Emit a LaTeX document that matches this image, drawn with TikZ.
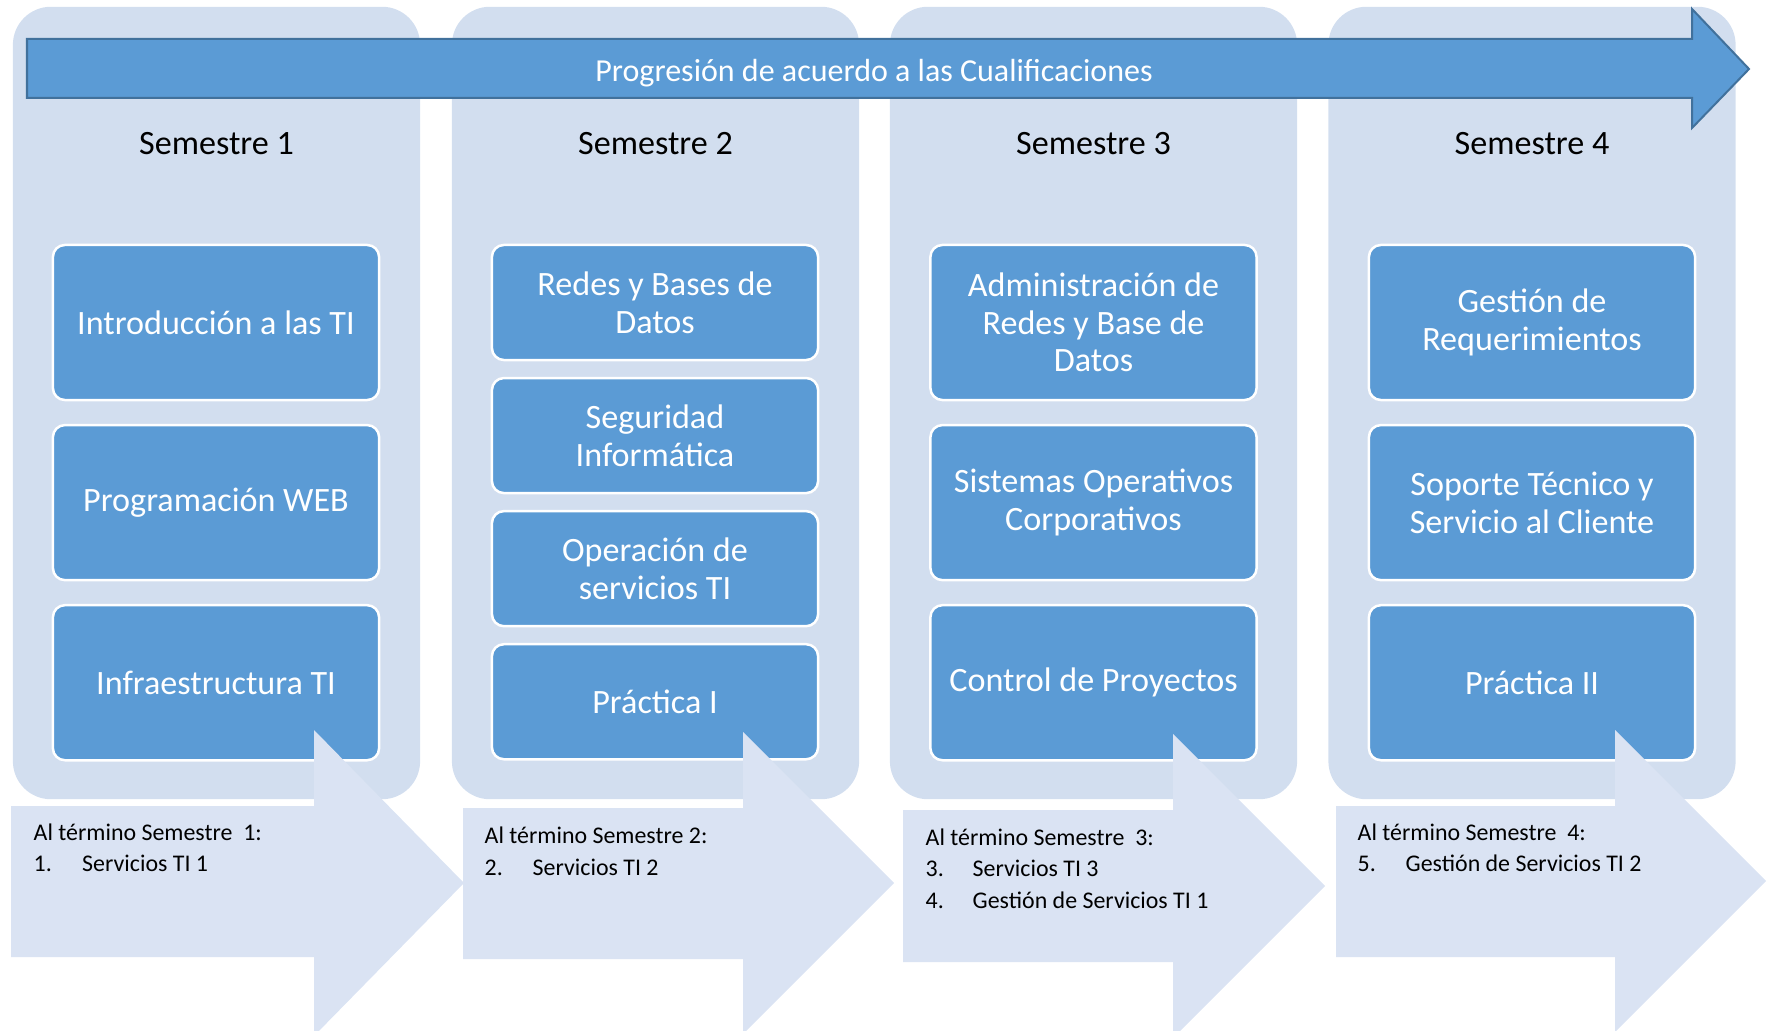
\documentclass[tikz,border=0pt]{standalone}
\usepackage{fontspec}
\setmainfont{Carlito}
\usetikzlibrary{positioning}
\definecolor{colfill}{RGB}{210,222,239}
\definecolor{coursefill}{RGB}{91,155,213}
\definecolor{bannerdraw}{RGB}{65,113,156}
\definecolor{endfill}{RGB}{218,227,243}
\tikzstyle{semcol} = [rectangle, rounded corners=0.38cm, minimum width=4.07cm, minimum height=7.92cm, fill=colfill, inner sep=0pt]
\tikzstyle{semtitle} = [anchor=base, inner sep=0pt, font=\fontsize{9.7}{11}\selectfont]
\tikzstyle{course} = [rectangle, rounded corners=0.12cm, minimum width=3.26cm, minimum height=1.55cm, text centered, align=center, draw=white, line width=0.025cm, outer sep=0pt, fill=coursefill, text=white, font=\fontsize{9.7}{10.7}\selectfont]
\tikzstyle{shortcourse} = [course, minimum height=1.15cm]
\tikzstyle{banner} = [fill=coursefill, draw=bannerdraw, line width=0.02cm]
\tikzstyle{endarrow} = [fill=endfill]
\tikzstyle{endtext} = [anchor=base west, inner sep=0pt, font=\fontsize{6.8}{8.8}\selectfont]

\begin{document}
\begin{tikzpicture}[x=0.01cm, y=-0.01cm]
\useasboundingbox (0,0) rectangle (1767,1031);
\clip (0,0) rectangle (1767,1031);

% semester columns
\node (col1) [semcol] at (216.5,403) {};
\node (col2) [semcol] at (655.5,403) {};
\node (col3) [semcol] at (1093.5,403) {};
\node (col4) [semcol] at (1532,403) {};

\node (sem1) [semtitle] at (216.5,155) {Semestre 1};
\node (sem2) [semtitle] at (655.5,155) {Semestre 2};
\node (sem3) [semtitle] at (1093.5,155) {Semestre 3};
\node (sem4) [semtitle] at (1532,155) {Semestre 4};

% Semestre 1
\node (intro) [course] at (216,322.5) {Introducción a las TI};
\node (web) [course, below=0.25cm of intro] {Programación WEB};
\node (infra) [course, below=0.25cm of web] {Infraestructura TI};

% Semestre 2
\node (redes) [shortcourse] at (655,302.5) {Redes y Bases de\\Datos};
\node (segur) [shortcourse, below=0.18cm of redes] {Seguridad\\Informática};
\node (opera) [shortcourse, below=0.18cm of segur] {Operación de\\servicios TI};
\node (prac1) [shortcourse, below=0.18cm of opera] {Práctica I};

% Semestre 3
\node (admin) [course] at (1093.5,322.5) {Administración de\\Redes y Base de\\Datos};
\node (sisop) [course, below=0.25cm of admin] {Sistemas Operativos\\Corporativos};
\node (proyec) [course, below=0.25cm of sisop] {Control de Proyectos};

% Semestre 4
\node (requer) [course] at (1532,322.5) {Gestión de\\Requerimientos};
\node (soporte) [course, below=0.25cm of requer] {Soporte Técnico y\\Servicio al Cliente};
\node (prac2) [course, below=0.25cm of soporte] {Práctica II};

% progression banner
\draw [banner] (27,39) -- (1692,39) -- (1692,9) -- (1749,69) -- (1692,128) -- (1692,98) -- (27,98) -- cycle;
\node (progresion) [text=white, font=\fontsize{9.1}{11}\selectfont] at (874,73.5) {Progresión de acuerdo a las Cualificaciones};

% end of semester arrows
\fill [endarrow] (11,806) -- (314,806) -- (314,730) -- (464,883) -- (314,1036) -- (314,957) -- (11,957) -- cycle;
\fill [endarrow] (463,808) -- (743,808) -- (743,732) -- (894,883) -- (743,1034) -- (743,959) -- (463,959) -- cycle;
\fill [endarrow] (903,810) -- (1173,810) -- (1173,734) -- (1325,886) -- (1173,1038) -- (1173,962) -- (903,962) -- cycle;
\fill [endarrow] (1336,806) -- (1615,806) -- (1615,730) -- (1766,881) -- (1615,1032) -- (1615,957) -- (1336,957) -- cycle;

\node (fin1) [endtext] at (33,840) {Al término Semestre\ \ 1:};
\node (fin1a) [endtext] at (33,871) {\makebox[0.485cm][l]{1.}Servicios TI 1};

\node (fin2) [endtext] at (484,843) {Al término Semestre 2:};
\node (fin2a) [endtext] at (484,875) {\makebox[0.48cm][l]{2.}Servicios TI 2};

\node (fin3) [endtext] at (925,845) {Al término Semestre\ \ 3:};
\node (fin3a) [endtext] at (925,876) {\makebox[0.47cm][l]{3.}Servicios TI 3};
\node (fin3b) [endtext] at (925,908) {\makebox[0.47cm][l]{4.}Gestión de Servicios TI 1};

\node (fin4) [endtext] at (1357,840) {Al término Semestre\ \ 4:};
\node (fin4a) [endtext] at (1357,871) {\makebox[0.48cm][l]{5.}Gestión de Servicios TI 2};
\end{tikzpicture}
\end{document}
